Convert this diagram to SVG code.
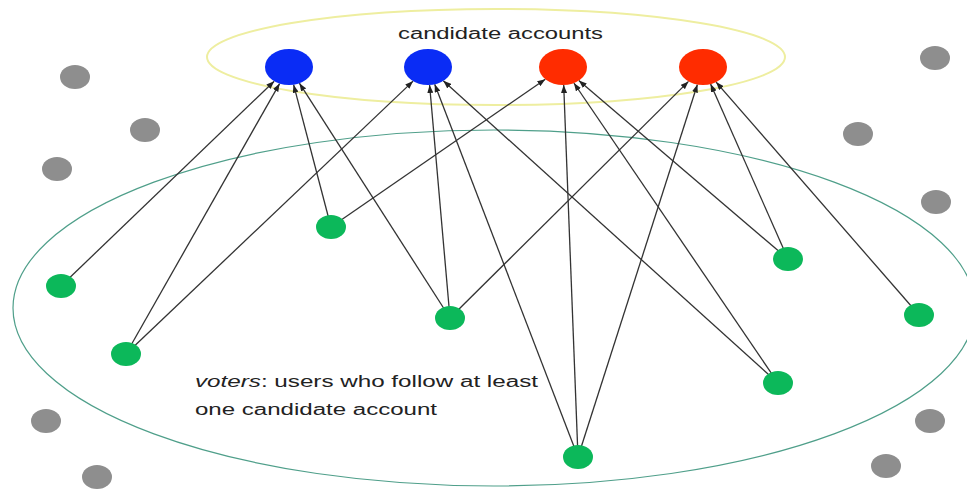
<svg xmlns="http://www.w3.org/2000/svg" width="967" height="489" viewBox="0 0 967 489">
<style>
.edge{stroke:#333;stroke-width:1.3;fill:none;marker-end:url(#ah)}
.cand-b{fill:#0a2cf5}
.cand-r{fill:#ff2c00}
.voter{fill:#0cb85a}
.other{fill:#8e8e8e}
.lbl{font-family:"Liberation Sans",Arial,sans-serif;font-size:16px;fill:#222}
</style>
<defs>
<marker id="ah" markerWidth="8" markerHeight="6" refX="8" refY="3" orient="auto" markerUnits="userSpaceOnUse">
<path d="M0,0 L8,3 L0,6 Z" fill="#222"/>
</marker>
</defs>
<rect width="967" height="489" fill="#fff"/>
<g id="groups">
<ellipse id="candidate-group" cx="496" cy="57" rx="289" ry="48" fill="none" stroke="#eeeea0" stroke-width="2"/>
<ellipse id="voter-group" cx="494" cy="308" rx="481" ry="178" fill="none" stroke="#4f9f8a" stroke-width="1.2"/>
</g>
<g id="connectors">
<line class="edge" x1="61" y1="286" x2="274.2" y2="81.2"/>
<line class="edge" x1="126" y1="354" x2="279.6" y2="83.6"/>
<line class="edge" x1="331" y1="227" x2="293.6" y2="84.7"/>
<line class="edge" x1="450" y1="318" x2="299.4" y2="83.2"/>
<line class="edge" x1="126" y1="354" x2="413.1" y2="81.1"/>
<line class="edge" x1="450" y1="318" x2="429.6" y2="85"/>
<line class="edge" x1="578" y1="457" x2="434.7" y2="84.3"/>
<line class="edge" x1="778" y1="383" x2="443.3" y2="80.8"/>
<line class="edge" x1="331" y1="227" x2="545.3" y2="79.2"/>
<line class="edge" x1="578" y1="457" x2="563.7" y2="85"/>
<line class="edge" x1="778" y1="383" x2="573.9" y2="83"/>
<line class="edge" x1="788" y1="259" x2="578.8" y2="80.5"/>
<line class="edge" x1="450" y1="318" x2="688.5" y2="81.4"/>
<line class="edge" x1="578" y1="457" x2="697.4" y2="84.5"/>
<line class="edge" x1="788" y1="259" x2="710.6" y2="84.1"/>
<line class="edge" x1="919" y1="315" x2="716.1" y2="82.1"/>
</g>
<g id="cand-blue-1"><ellipse class="cand-b" cx="289" cy="67" rx="24" ry="18"/></g>
<g id="cand-blue-2"><ellipse class="cand-b" cx="428" cy="67" rx="24" ry="18"/></g>
<g id="cand-red-1"><ellipse class="cand-r" cx="563" cy="67" rx="24" ry="18"/></g>
<g id="cand-red-2"><ellipse class="cand-r" cx="703" cy="67" rx="24" ry="18"/></g>
<g id="voter-1"><ellipse class="voter" cx="61" cy="286" rx="15" ry="12"/></g>
<g id="voter-2"><ellipse class="voter" cx="126" cy="354" rx="15" ry="12"/></g>
<g id="voter-3"><ellipse class="voter" cx="331" cy="227" rx="15" ry="12"/></g>
<g id="voter-4"><ellipse class="voter" cx="450" cy="318" rx="15" ry="12"/></g>
<g id="voter-5"><ellipse class="voter" cx="578" cy="457" rx="15" ry="12"/></g>
<g id="voter-6"><ellipse class="voter" cx="778" cy="383" rx="15" ry="12"/></g>
<g id="voter-7"><ellipse class="voter" cx="788" cy="259" rx="15" ry="12"/></g>
<g id="voter-8"><ellipse class="voter" cx="919" cy="315" rx="15" ry="12"/></g>
<g id="other-1"><ellipse class="other" cx="75" cy="77" rx="15" ry="12"/></g>
<g id="other-2"><ellipse class="other" cx="145" cy="130" rx="15" ry="12"/></g>
<g id="other-3"><ellipse class="other" cx="57" cy="169" rx="15" ry="12"/></g>
<g id="other-4"><ellipse class="other" cx="935" cy="58" rx="15" ry="12"/></g>
<g id="other-5"><ellipse class="other" cx="858" cy="134" rx="15" ry="12"/></g>
<g id="other-6"><ellipse class="other" cx="936" cy="202" rx="15" ry="12"/></g>
<g id="other-7"><ellipse class="other" cx="46" cy="421" rx="15" ry="12"/></g>
<g id="other-8"><ellipse class="other" cx="97" cy="477" rx="15" ry="12"/></g>
<g id="other-9"><ellipse class="other" cx="930" cy="421" rx="15" ry="12"/></g>
<g id="other-10"><ellipse class="other" cx="886" cy="466" rx="15" ry="12"/></g>
<g id="labels">
<text class="lbl" x="398" y="39" textLength="205" lengthAdjust="spacingAndGlyphs">candidate accounts</text>
<text class="lbl" x="195" y="387" textLength="343" lengthAdjust="spacingAndGlyphs"><tspan font-style="italic">voters</tspan>: users who follow at least</text>
<text class="lbl" x="195" y="415" textLength="242" lengthAdjust="spacingAndGlyphs">one candidate account</text>
</g>
</svg>
